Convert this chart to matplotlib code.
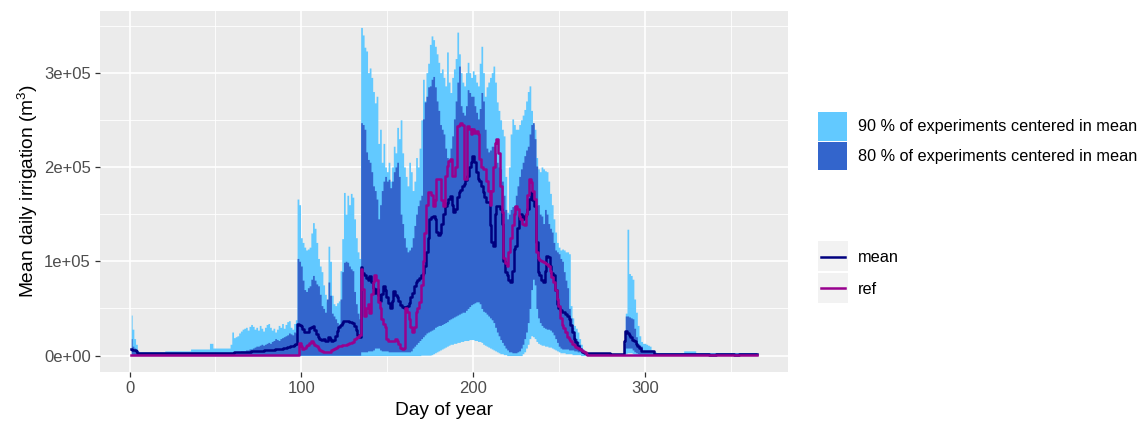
import numpy as np
import matplotlib
matplotlib.use('Agg')
import matplotlib.pyplot as plt
from matplotlib.patches import Rectangle
from matplotlib.lines import Line2D
from matplotlib.ticker import FixedLocator

plt.rcParams['font.family'] = ['Liberation Sans', 'DejaVu Sans']
plt.rcParams['mathtext.fontset'] = 'custom'
plt.rcParams['mathtext.rm'] = 'Liberation Sans'
plt.rcParams['mathtext.it'] = 'Liberation Sans:italic'
plt.rcParams['mathtext.bf'] = 'Liberation Sans:bold'

# ---------------- data (values in thousands of m3), days 1..365 ----------------
days = list(range(1, 366))

q95 = [
    43, 28, 18, 12, 5, 4, 4, 4, 4, 4,
    4, 4, 4, 4, 4, 4, 4, 4, 4, 4,
    5, 5, 5, 5, 5, 5, 5, 5, 5, 5,
    5, 5, 5, 5, 5, 7, 7, 7, 7, 7,
    7, 7, 7, 7, 7, 7, 13, 13, 8, 8,
    8, 8, 8, 8, 8, 8, 8, 8, 12, 25,
    19, 20, 21, 24, 26, 28, 29, 30, 27, 31,
    33, 31, 28, 30, 27, 32, 29, 26, 30, 33,
    34, 30, 27, 29, 25, 28, 32, 30, 34, 29,
    33, 36, 37, 30, 28, 34, 38, 166, 160, 125,
    120, 115, 112, 113, 115, 130, 141, 135, 120, 103,
    95, 89, 75, 65, 57, 116, 100, 64, 55, 53,
    56, 58, 90, 124, 173, 150, 170, 160, 172, 168,
    145, 125, 110, 103, 348, 340, 327, 323, 300, 305,
    295, 280, 268, 275, 225, 240, 205, 225, 200, 195,
    205, 185, 200, 222, 215, 242, 230, 250, 215, 200,
    190, 180, 205, 195, 175, 185, 210, 200, 220, 250,
    293, 270, 300, 310, 330, 339, 335, 328, 320, 311,
    300, 304, 295, 286, 322, 290, 279, 295, 304, 315,
    343, 320, 300, 290, 286, 300, 311, 300, 295, 302,
    298, 290, 286, 310, 328, 300, 275, 285, 290, 295,
    300, 307, 290, 269, 260, 250, 240, 233, 190, 152,
    200, 235, 251, 245, 240, 240, 245, 250, 255, 261,
    270, 280, 286, 260, 245, 240, 210, 198, 195, 200,
    198, 196, 195, 185, 172, 160, 145, 131, 120, 115,
    112, 113, 112, 110, 110, 108, 53, 40, 32, 29,
    25, 18, 12, 7, 4, 2.5, 2, 2, 2, 2,
    2, 2, 2, 2, 2, 2, 2, 2, 2, 2,
    2, 2, 2, 2, 2, 2, 2, 14, 45, 134,
    87, 85, 81, 60, 46, 32, 21, 15, 13, 13,
    12, 11, 10, 6, 5, 4, 3, 3, 3, 3,
    3, 3, 3, 3, 3, 3, 3, 3, 3, 3,
    3, 3, 5, 5, 5, 5, 5, 5, 5, 3,
    3, 3, 3, 3, 3, 3, 3, 3, 3, 3,
    3, 3, 3, 3, 3, 3, 3, 3, 3, 3,
    3, 3, 3, 3, 3, 3, 3, 3, 3, 3,
    3, 3, 3, 3, 3,
]

q90 = [
    18, 10, 8, 5, 4, 3.5, 3.5, 3.5, 3.5, 3.5,
    3.5, 3.5, 3.5, 3.5, 3.5, 3.5, 3.5, 3.5, 3.5, 3.5,
    3.5, 3.5, 3.5, 3.5, 3.5, 3.5, 3.5, 3.5, 3.5, 3.5,
    3.5, 3.5, 3.5, 3.5, 3.5, 3.5, 3.5, 3.5, 3.5, 3.5,
    3.5, 3.5, 3.5, 3.5, 3.5, 3.5, 3.5, 3.5, 3.5, 3.5,
    3.5, 3.5, 3.5, 3.5, 3.5, 3.5, 3.5, 3.5, 3.5, 3.5,
    4, 4, 4.5, 4.5, 5, 5, 5, 6, 6, 7,
    7, 8, 9, 10, 10, 11, 12, 11, 12, 13,
    14, 13, 15, 16, 18, 17, 16, 18, 19, 20,
    21, 22, 24, 23, 22, 25, 24, 103, 100, 95,
    80, 70, 68, 72, 74, 81, 85, 80, 76, 74,
    65, 53, 50, 46, 60, 78, 64, 45, 42, 39,
    35, 32, 60, 89, 99, 100, 99, 95, 92, 90,
    68, 55, 45, 39, 247, 245, 240, 216, 208, 205,
    195, 180, 175, 166, 145, 160, 175, 185, 190, 185,
    187, 178, 185, 195, 200, 205, 190, 150, 140, 125,
    115, 110, 112, 115, 125, 138, 150, 159, 165, 170,
    251, 269, 275, 285, 286, 293, 296, 285, 270, 260,
    245, 240, 235, 220, 210, 208, 220, 233, 251, 270,
    290, 307, 265, 258, 255, 265, 282, 279, 275, 275,
    265, 258, 251, 262, 279, 270, 240, 220, 216, 218,
    222, 222, 215, 205, 200, 198, 185, 170, 155, 145,
    150, 155, 158, 159, 170, 180, 190, 198, 205, 212,
    218, 222, 235, 245, 247, 230, 201, 160, 150, 148,
    140, 155, 150, 140, 135, 131, 120, 112, 110, 108,
    103, 100, 89, 80, 72, 50, 40, 30, 22, 18,
    15, 12, 8, 5, 3, 2.5, 2, 2, 2, 2,
    2, 2, 2, 2, 2, 2, 2, 2, 2, 2,
    2, 2, 2, 2, 2, 2, 2, 13, 42, 42,
    41, 40, 39, 29, 20, 13, 11, 10, 5, 5,
    5, 5, 5, 5, 5, 3, 3, 3, 3, 3,
    3, 3, 3, 3, 3, 3, 3, 3, 3, 3,
    3, 3, 3, 3, 3, 3, 3, 3, 3, 3,
    3, 3, 3, 3, 3, 3, 3, 3, 3, 3,
    3, 3, 3, 3, 3, 3, 3, 3, 3, 3,
    3, 3, 3, 3, 3, 3, 3, 3, 3, 3,
    3, 3, 3, 3, 3,
]

q10 = [
    0, 0, 0, 0, 0, 0, 0, 0, 0, 0,
    0, 0, 0, 0, 0, 0, 0, 0, 0, 0,
    0, 0, 0, 0, 0, 0, 0, 0, 0, 0,
    0, 0, 0, 0, 0, 0, 0, 0, 0, 0,
    0, 0, 0, 0, 0, 0, 0, 0, 0, 0,
    0, 0, 0, 0, 0, 0, 0, 0, 0, 0,
    0, 0, 0, 0, 0, 0, 0, 0, 0, 0,
    0, 0, 0, 0, 0, 0, 0, 0, 0, 0,
    0, 0, 0, 0, 0, 0, 0, 0, 0, 0,
    0, 0, 0, 0, 0, 0, 0, 0.5, 0.5, 0.5,
    0.5, 0.5, 0.5, 0.5, 0.5, 0.5, 0.5, 0.5, 0.5, 0.5,
    0.5, 0.5, 0.5, 0.5, 0.5, 0.5, 0.5, 0.5, 0.5, 0.5,
    0.5, 0.5, 0.5, 0.5, 0.5, 0.5, 0.5, 0.5, 0.5, 0.5,
    0.5, 0.5, 0.5, 0.5, 4, 4, 4, 4, 5, 5,
    5, 6, 8, 8, 8, 6, 5, 5, 5, 5,
    4, 4, 4, 4, 4, 4, 4, 4, 4, 4,
    4, 4, 4, 5, 8, 10, 12, 14, 16, 18,
    20, 22, 24, 25, 26, 27, 28, 30, 31, 32,
    32, 33, 34, 35, 36, 38, 39, 40, 41, 42,
    43, 44, 45, 46, 46, 48, 50, 52, 54, 55,
    56, 57, 57, 55, 50, 47, 46, 44, 42, 40,
    38, 35, 30, 25, 21, 17, 14, 11, 8, 6,
    4, 4, 3, 3, 3, 4, 5, 8, 12, 18,
    25, 35, 50, 70, 81, 75, 50, 40, 35, 32,
    30, 29, 28, 28, 27, 25, 22, 18, 14, 10,
    8, 7, 7, 7, 7, 6, 6, 6, 5, 5,
    4, 4, 3, 3, 2, 1, 1, 1, 1, 1,
    1, 1, 1, 1, 1, 1, 1, 1, 1, 1,
    1, 1, 1, 1, 1, 1, 1, 3, 8, 8,
    8, 8, 6, 4, 3, 2, 1, 1, 1, 1,
    1, 1, 1, 1, 1, 1, 1, 1, 1, 1,
    1, 1, 1, 1, 1, 1, 1, 1, 1, 1,
    1, 1, 1, 1, 1, 1, 1, 1, 1, 1,
    1, 1, 1, 1, 1, 1, 1, 1, 1, 1,
    1, 1, 1, 1, 1, 1, 1, 1, 1, 1,
    1, 1, 1, 1, 1, 1, 1, 1, 1, 1,
    1, 1, 1, 1, 1,
]

q05 = [
    0, 0, 0, 0, 0, 0, 0, 0, 0, 0,
    0, 0, 0, 0, 0, 0, 0, 0, 0, 0,
    0, 0, 0, 0, 0, 0, 0, 0, 0, 0,
    0, 0, 0, 0, 0, 0, 0, 0, 0, 0,
    0, 0, 0, 0, 0, 0, 0, 0, 0, 0,
    0, 0, 0, 0, 0, 0, 0, 0, 0, 0,
    0, 0, 0, 0, 0, 0, 0, 0, 0, 0,
    0, 0, 0, 0, 0, 0, 0, 0, 0, 0,
    0, 0, 0, 0, 0, 0, 0, 0, 0, 0,
    0, 0, 0, 0, 0, 0, 0, 0, 0, 0,
    0, 0, 0, 0, 0, 0, 0, 0, 0, 0,
    0, 0, 0, 0, 0, 0, 0, 0, 0, 0,
    0, 0, 0, 0, 0, 0, 0, 0, 0, 0,
    0, 0, 0, 0, 0, 0, 0, 0, 0, 0,
    0, 0, 0, 0, 0, 0, 0, 0, 0, 0,
    0, 0, 0, 0, 0, 0, 0, 0, 0, 0,
    0, 0, 0, 0, 0, 0, 0, 0, 0, 0.5,
    0.5, 0.5, 0.5, 0.5, 0.5, 1, 2, 3, 4, 5,
    6, 7, 8, 9, 10, 11, 12, 12, 13, 13,
    14, 14, 15, 15, 16, 16, 16, 17, 17, 17,
    16, 16, 15, 15, 14, 12, 11, 10, 9, 8,
    7, 6, 5, 4, 3, 2, 2, 1, 1, 0,
    0, 0, 0, 0, 0, 0, 0, 0, 2, 4,
    8, 12, 18, 21, 20, 18, 15, 13, 12, 11,
    11, 10, 10, 9, 9, 8, 7, 6, 5, 4,
    3, 3, 3, 2, 2, 2, 2, 1, 1, 1,
    1, 1, 0, 0, 0, 0, 0, 0, 0, 0,
    0, 0, 0, 0, 0, 0, 0, 0, 0, 0,
    0, 0, 0, 0, 0, 0, 0, 0, 2, 3,
    3, 3, 2, 0, 0, 0, 0, 0, 0, 0,
    0, 0, 0, 0, 0, 0, 0, 0, 0, 0,
    0, 0, 0, 0, 0, 0, 0, 0, 0, 0,
    0, 0, 0, 0, 0, 0, 0, 0, 0, 0,
    0, 0, 0, 0, 0, 0, 0, 0, 0, 0,
    0, 0, 0, 0, 0, 0, 0, 0, 0, 0,
    0, 0, 0, 0, 0, 0, 0, 0, 0, 0,
    0, 0, 0, 0, 0,
]

mean = [
    7, 6, 6, 5, 3, 3, 3, 3, 3, 3,
    3, 3, 3, 3, 3, 3, 3, 3, 3, 3,
    3, 3, 3, 3, 3, 3, 3, 3, 3, 3,
    3, 3, 3, 3, 3, 3, 3, 3, 3, 3,
    3, 3, 3, 3, 3, 3, 3, 3, 3, 3,
    3, 3, 3, 3, 3, 3, 3, 3, 3, 3,
    3.5, 3.5, 3.5, 3.5, 3.5, 4, 4, 4, 4, 4,
    4.5, 4.5, 4.5, 5, 5, 5, 5, 5, 5.5, 5.5,
    5.5, 6, 6, 6, 6.5, 6.5, 7, 7, 7.5, 8,
    8.5, 9, 9.5, 10, 10, 11, 12, 34, 32, 31,
    28, 25, 25, 25, 29, 30, 31, 27, 23, 20,
    18, 17, 18, 16, 15, 20, 18, 16, 17, 21,
    26, 30, 32, 35, 37, 37, 37, 36, 36, 35,
    31, 27, 22, 20, 94, 88, 85, 82, 80, 84,
    78, 72, 66, 71, 64, 58, 65, 74, 70, 62,
    56, 50, 58, 68, 64, 62, 58, 54, 52, 50,
    52, 53, 56, 62, 66, 74, 78, 80, 82, 85,
    88, 95, 110, 125, 145, 147, 148, 145, 131, 128,
    130, 140, 150, 159, 162, 166, 169, 160, 152, 155,
    168, 173, 176, 180, 182, 186, 190, 200, 205, 212,
    205, 195, 187, 185, 180, 173, 168, 163, 163, 138,
    120, 116, 150, 159, 159, 155, 140, 100, 89, 85,
    80, 78, 90, 113, 116, 135, 148, 150, 145, 148,
    150, 155, 166, 173, 165, 159, 120, 89, 85, 80,
    78, 90, 106, 105, 95, 88, 85, 70, 55, 50,
    48, 46, 46, 44, 42, 39, 32, 25, 18, 14,
    10, 7, 6, 4, 3, 2.5, 2.5, 2.5, 2.5, 2.5,
    2.5, 2.5, 2.5, 2.5, 2.5, 2.5, 2.5, 2.5, 2.5, 1.5,
    1.5, 1.5, 1.5, 1.5, 1.5, 1.5, 1.5, 15, 26, 24,
    22, 20, 17, 15, 12, 10, 8, 5, 5, 5,
    5, 5, 5, 5, 5, 2, 2, 2, 2, 2,
    2, 2, 2, 2, 2, 2, 2, 2, 2, 2,
    2, 2, 2, 2, 2, 2, 2, 2, 2, 2,
    2, 2, 2, 2, 2, 2, 2, 0.5, 0.5, 0.5,
    0.5, 2, 2, 2, 2, 2, 2, 2, 2, 2,
    2, 0.5, 0.5, 0.5, 2, 2, 2, 2, 2, 2,
    2, 2, 2, 2, 2,
]

ref = [
    0.8, 0.8, 0.8, 0.8, 0.8, 0.8, 0.8, 0.8, 0.8, 0.8,
    0.8, 0.8, 0.8, 0.8, 0.8, 0.8, 0.8, 0.8, 0.8, 0.8,
    0.8, 0.8, 0.8, 0.8, 0.8, 0.8, 0.8, 0.8, 0.8, 0.8,
    0.8, 0.8, 0.8, 0.8, 0.8, 0.8, 0.8, 0.8, 0.8, 0.8,
    0.8, 0.8, 0.8, 0.8, 0.8, 0.8, 0.8, 0.8, 0.8, 0.8,
    0.8, 0.8, 0.8, 0.8, 0.8, 0.8, 0.8, 0.8, 0.8, 0.8,
    0.8, 0.8, 0.8, 0.8, 0.8, 0.8, 0.8, 0.8, 0.8, 0.8,
    0.8, 0.8, 0.8, 0.8, 0.8, 0.8, 0.8, 0.8, 0.8, 0.8,
    0.8, 0.8, 0.8, 0.8, 0.8, 0.8, 0.8, 0.8, 0.8, 0.8,
    0.8, 0.8, 0.8, 0.8, 0.8, 0.8, 0.8, 0.8, 13, 10,
    7, 8, 10, 11, 13, 15, 13, 11, 10, 8,
    6, 5, 4, 4, 4, 4, 4, 6, 7, 8,
    9, 10, 10, 11, 11, 11, 12, 13, 13, 14,
    18, 19, 20, 22, 92, 71, 42, 50, 55, 45,
    65, 78, 85, 80, 57, 50, 39, 34, 30, 18,
    16, 15, 15, 16, 18, 15, 12, 8, 7, 8,
    50, 46, 39, 30, 25, 30, 46, 50, 57, 75,
    100, 130, 160, 173, 173, 170, 159, 165, 187, 187,
    187, 165, 159, 190, 201, 206, 208, 190, 190, 200,
    243, 245, 247, 245, 187, 187, 243, 240, 235, 240,
    236, 238, 235, 208, 200, 198, 198, 185, 175, 160,
    175, 200, 225, 230, 215, 180, 152, 103, 98, 95,
    110, 125, 138, 150, 159, 155, 148, 145, 140, 138,
    150, 170, 187, 184, 175, 166, 110, 103, 101, 100,
    99, 98, 97, 95, 90, 83, 78, 70, 60, 53,
    40, 32, 29, 25, 20, 18, 15, 12, 11, 9,
    8, 7, 6, 5, 4, 2, 0.5, 0.5, 0.5, 0.5,
    0.5, 0.5, 0.5, 0.5, 0.5, 0.5, 0.5, 0.5, 0.5, 0.5,
    0.5, 0.5, 0.5, 0.5, 0.5, 0.5, 0.5, 0.5, 0.5, 0.5,
    0.5, 0.5, 0.5, 0.5, 0.5, 0.5, 0.5, 0.5, 0.5, 0.5,
    0.5, 0.5, 0.5, 0.5, 0.5, 0.5, 0.5, 0.5, 0.5, 0.5,
    0.5, 0.5, 0.5, 0.5, 0.5, 0.5, 0.5, 0.5, 0.5, 0.5,
    0.5, 0.5, 0.5, 0.5, 0.5, 0.5, 0.5, 0.5, 0.5, 0.5,
    0.5, 0.5, 0.5, 0.5, 0.5, 0.5, 0.5, 0.5, 0.5, 0.5,
    0.5, 0.5, 0.5, 0.5, 0.5, 0.5, 0.5, 0.5, 0.5, 0.5,
    0.5, 0.5, 0.5, 0.5, 0.5, 0.5, 0.5, 0.5, 0.5, 0.5,
    0.5, 0.5, 0.5, 0.5, 0.5,
]

x_ticks = [0, 100, 200, 300]
x_ticklabels = ['0', '100', '200', '300']
y_ticks = [0, 100000, 200000, 300000]
y_ticklabels = ['0e+00', '1e+05', '2e+05', '3e+05']
legend_fill_labels = ['90 % of experiments centered in mean',
                      '80 % of experiments centered in mean']
legend_line_labels = ['mean', 'ref']

# ---------------- styling ----------------
light = '#62C9FF'
dark = '#3365CC'
navy = '#00007F'
magenta = '#98008E'

unit = 1000.0
d = np.array(days)
s = {k: np.array(v, dtype=float) * unit for k, v in
     dict(q95=q95, q90=q90, q10=q10, q05=q05, mean=mean, ref=ref).items()}

W, H = 1145, 423
fig = plt.figure(figsize=(W / 100, H / 100), dpi=100)
fig.patch.set_facecolor('white')

def fx(px):
    return px / W

def fy(py):
    return 1 - py / H

ax = fig.add_axes([fx(100), fy(372), (788 - 100) / W, (372 - 11) / H])
ax.set_facecolor('#EBEBEB')
for sp in ax.spines.values():
    sp.set_visible(False)

ax.fill_between(d, s['q05'], s['q95'], step='mid', color=light, linewidth=0, zorder=2)
ax.fill_between(d, s['q10'], s['q90'], step='mid', color=dark, linewidth=0, zorder=3)
ax.plot(d, s['mean'], drawstyle='steps-mid', color=navy, lw=1.8, zorder=4)
ax.plot(d, s['ref'], drawstyle='steps-mid', color=magenta, lw=1.8, zorder=5)

ax.set_xlim(-17.2, 383.2)
ax.set_ylim(-17400, 365400)

ax.xaxis.set_major_locator(FixedLocator(x_ticks))
ax.yaxis.set_major_locator(FixedLocator(y_ticks))
ax.xaxis.set_minor_locator(FixedLocator([50, 150, 250, 350]))
ax.yaxis.set_minor_locator(FixedLocator([50000, 150000, 250000, 350000]))
ax.set_xticklabels(x_ticklabels)
ax.set_yticklabels(y_ticklabels)
ax.set_axisbelow(True)
ax.grid(which='major', color='white', lw=1.2, zorder=0)
ax.grid(which='minor', color='white', lw=0.6, zorder=0)
ax.tick_params(which='major', length=3.5, width=0.9, color='#333333',
               labelcolor='#4D4D4D', labelsize=12, pad=3)
ax.tick_params(which='minor', length=0)

fig.text(fx(444), fy(410), 'Day of year', ha='center', va='center',
         fontsize=13.8, color='black')
fig.text(fx(28), fy(191), r'Mean daily irrigation (m$^3$)', ha='center', va='center',
         rotation=90, fontsize=13.8, color='black')

# ---------------- legends (drawn in figure pixels) ----------------
def rect(x0, y0, x1, y1, color):
    fig.add_artist(Rectangle((fx(x0), fy(y1)), (x1 - x0) / W, (y1 - y0) / H,
                             transform=fig.transFigure, facecolor=color,
                             edgecolor='none'))

rect(818, 112, 847, 141, light)
rect(818, 142, 847, 170, dark)
fig.text(fx(858), fy(127), legend_fill_labels[0], ha='left', va='center',
         fontsize=11.7, color='black')
fig.text(fx(858), fy(157), legend_fill_labels[1], ha='left', va='center',
         fontsize=11.7, color='black')

rect(818, 241, 848, 271, '#F2F2F2')
rect(818, 273, 848, 303, '#F2F2F2')
for yy, col in [(257, navy), (288, magenta)]:
    fig.add_artist(Line2D([fx(821), fx(845)], [fy(yy), fy(yy)],
                          transform=fig.transFigure, color=col, lw=1.8))
fig.text(fx(858), fy(258), legend_line_labels[0], ha='left', va='center',
         fontsize=11.7, color='black')
fig.text(fx(858), fy(289), legend_line_labels[1], ha='left', va='center',
         fontsize=11.7, color='black')

fig.savefig('out.png', dpi=100)
